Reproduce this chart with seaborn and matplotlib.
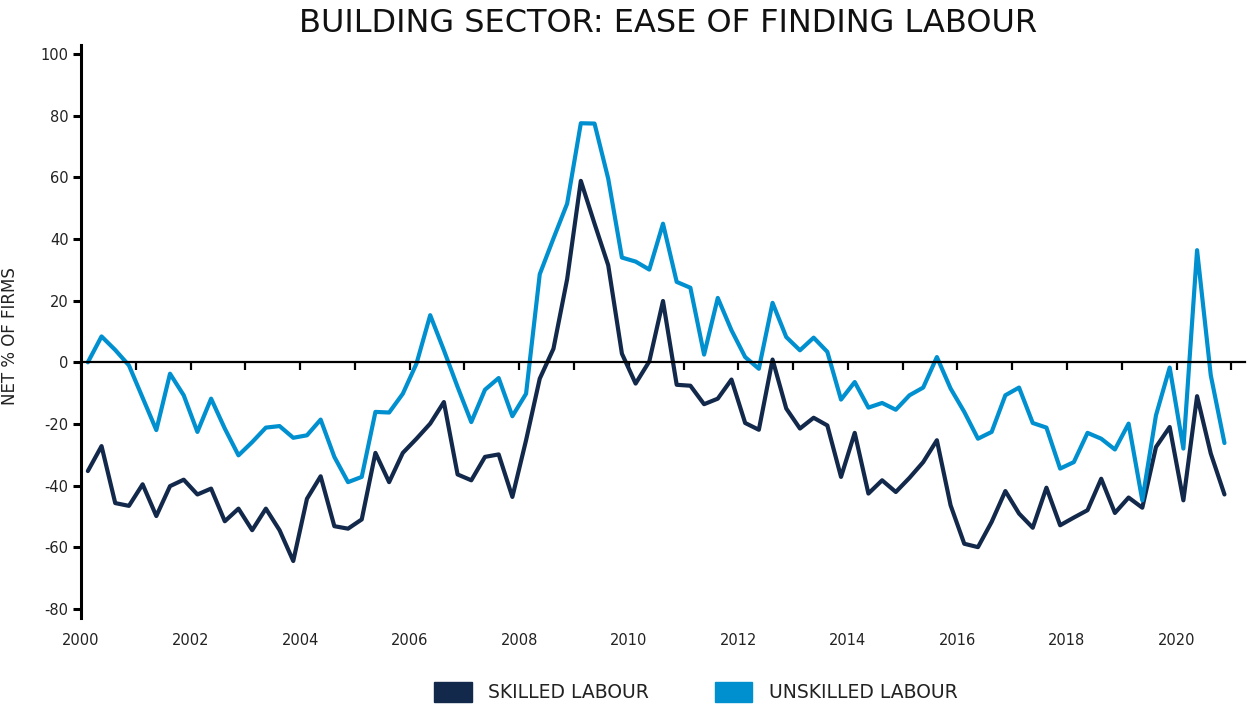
import numpy as np
import pandas as pd
import matplotlib
matplotlib.use("Agg")
import matplotlib.pyplot as plt
from matplotlib.patches import Patch
import seaborn as sns

# ---- data (quarterly, 2000Q1 .. 2020Q4) ----
quarters = pd.period_range("2000Q1", "2020Q4", freq="Q")

skilled = [-35.3, -27.2, -45.7, -46.6, -39.6, -49.9, -40.2, -38.1, -42.9, -41.0,
           -51.6, -47.5, -54.5, -47.5, -54.5, -64.5, -44.3, -37.0, -53.2, -54.0,
           -51.0, -29.4, -38.9, -29.4, -24.8, -19.9, -12.9, -36.4, -38.3, -30.7,
           -29.9, -43.7, -25.3, -5.3, 4.4, 27.0, 58.9, 45.0, 31.5, 2.8,
           -6.9, 0.3, 19.9, -7.3, -7.6, -13.6, -11.8, -5.6, -19.7, -21.9,
           0.9, -15.0, -21.5, -18.0, -20.5, -37.2, -22.9, -42.6, -38.3, -42.1,
           -37.5, -32.4, -25.3, -46.4, -58.9, -60.0, -51.8, -41.8, -49.1, -53.7,
           -40.7, -52.9, -50.4, -48.0, -37.8, -48.9, -43.9, -47.2, -27.5, -21.0,
           -44.8, -11.0, -29.6, -42.9]

unskilled = [0.0, 8.4, 4.0, -1.0, -11.5, -22.0, -3.7, -10.7, -22.6, -11.8,
             -21.5, -30.2, -25.9, -21.2, -20.7, -24.5, -23.7, -18.6, -30.7, -38.9,
             -37.2, -16.1, -16.3, -10.2, -0.4, 15.3, 3.9, -8.0, -19.4, -8.9,
             -5.1, -17.5, -10.2, 28.6, 40.2, 51.5, 77.6, 77.5, 59.6, 34.0,
             32.7, 30.1, 45.0, 26.1, 24.2, 2.5, 20.9, 10.4, 1.7, -2.1,
             19.3, 8.2, 3.9, 8.0, 3.4, -12.1, -6.4, -14.7, -13.2, -15.4,
             -10.7, -8.2, 1.7, -8.5, -16.1, -24.8, -22.6, -10.7, -8.2, -19.7,
             -21.2, -34.5, -32.4, -22.9, -24.8, -28.3, -19.9, -44.8, -17.2, -1.7,
             -28.0, 36.4, -4.2, -26.2]

series_names = ["SKILLED LABOUR", "UNSKILLED LABOUR"]
colors = ["#13294B", "#0090D0"]
year_ticks = list(range(2000, 2022))
label_years = list(range(2000, 2021, 2))
year_labels = [str(y) for y in label_years]
y_ticks = list(range(-80, 101, 20))

# position each quarter at its mid-point in decimal years
xpos = quarters.year + (quarters.quarter - 0.5) / 4.0

df = pd.concat([
    pd.DataFrame({"x": xpos, "value": skilled, "series": series_names[0]}),
    pd.DataFrame({"x": xpos, "value": unskilled, "series": series_names[1]}),
])

sns.set_theme(style="white")
plt.rcParams["font.family"] = ["DejaVu Sans"]
plt.rcParams["axes.unicode_minus"] = False

fig = plt.figure(figsize=(12.52, 7.07), dpi=100)
ax = fig.add_axes([81 / 1252, 1 - 618 / 707, (1245 - 81) / 1252, (618 - 45) / 707])

sns.lineplot(data=df, x="x", y="value", hue="series", hue_order=series_names,
             palette=colors, linewidth=3.0, ax=ax, legend=False)

ax.set_xlim(2000, 2021.25)
ax.set_ylim(-83, 103)

# spines
for s in ["top", "right"]:
    ax.spines[s].set_visible(False)
ax.spines["left"].set_color("black")
ax.spines["left"].set_linewidth(2.2)
ax.spines["bottom"].set_position(("data", 0))
ax.spines["bottom"].set_color("black")
ax.spines["bottom"].set_linewidth(1.6)

ax.set_xticks(year_ticks)
ax.tick_params(axis="x", direction="out", length=6, width=1.6, color="black",
               labelbottom=False, bottom=True)
ax.set_yticks(y_ticks)
ax.tick_params(axis="y", direction="out", length=6, width=2.2, color="black",
               labelsize=10.5, labelcolor="#222222", left=True, pad=3)

# year labels at the bottom of the plot
sec = ax.secondary_xaxis(-0.012)
sec.set_xticks(label_years, labels=year_labels)
sec.tick_params(length=0, labelsize=10.5, labelcolor="#222222", pad=6)
sec.spines["bottom"].set_visible(False)

ax.set_xlabel("")
ax.set_ylabel("NET % OF FIRMS", fontsize=12, color="#222222")
ax.yaxis.set_label_coords(-0.053, (618 - 336) / 573)
ax.grid(False)

fig.text(668 / 1252, 1 - 23 / 707, "BUILDING SECTOR: EASE OF FINDING LABOUR",
         ha="center", va="center", fontsize=23, color="#111111")

handles = [Patch(facecolor=c, edgecolor=c) for c in colors]
fig.legend(handles, series_names, loc="center", bbox_to_anchor=(696 / 1252, 1 - 692 / 707),
           ncol=2, frameon=False, fontsize=13.5, handlelength=2.0, handleheight=1.33,
           handletextpad=0.9, columnspacing=3.5, labelcolor="#222222")

fig.savefig("out.png", dpi=100)
